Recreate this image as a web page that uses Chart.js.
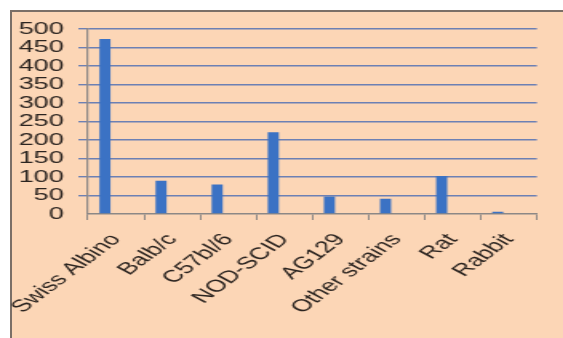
<!DOCTYPE html>
<html>
<head>
<meta charset="utf-8">
<script src="https://cdn.jsdelivr.net/npm/chart.js@4/dist/chart.umd.min.js"></script>
<style>
  html, body { margin: 0; padding: 0; background: #ffffff; overflow: hidden; }
  body { width: 563px; height: 338px; position: relative; }
  #frame {
    position: absolute; left: 10px; top: 10px; width: 553px; height: 328px;
    background: #fcd6b6; border-top: 2px solid #7b6f67; border-left: 2px solid #7b6f67;
    box-sizing: border-box;
  }
  /* the chart is laid out narrow and widened horizontally */
  #chart {
    position: absolute; left: 0; top: 0;
    transform: scaleX(1.6); transform-origin: 0 0;
  }
</style>
</head>
<body>
<div id="frame"></div>
<canvas id="chart" width="352" height="338"></canvas>
<script>
// Animal models used
const categories = ['Swiss Albino', 'Balb/c', 'C57bl/6', 'NOD-SCID', 'AG129', 'Other strains', 'Rat', 'Rabbit'];
const series1 = [473, 90, 80, 221, 47, 41, 103, 6];
const series2 = [];
const yTicks = { min: 0, max: 500, step: 50 };

const textColor = '#2b2420';
const gridBlue = '#6c80b4';
const axisGray = '#8c8886';
const family = '"Liberation Sans", Arial, sans-serif';

new Chart(document.getElementById('chart'), {
  type: 'bar',
  data: {
    labels: categories,
    datasets: [
      { label: 'Series 1', data: series1, backgroundColor: '#3b72c4', borderWidth: 0,
        categoryPercentage: 0.79, barPercentage: 0.5 },
      { label: 'Series 2', data: series2, backgroundColor: '#c0504d', borderWidth: 0,
        categoryPercentage: 0.79, barPercentage: 0.5 }
    ]
  },
  options: {
    responsive: false,
    animation: false,
    devicePixelRatio: 1,
    layout: { padding: { left: 0, top: 29, right: 16.4, bottom: 0 } },
    plugins: { legend: { display: false }, tooltip: { enabled: false } },
    scales: {
      x: {
        grid: { offset: true, drawOnChartArea: false, color: axisGray, tickLength: 6, lineWidth: 1 },
        border: { color: axisGray, width: 1.5 },
        ticks: {
          color: textColor, font: { family, size: 17 }, autoSkip: false,
          minRotation: 50, maxRotation: 50, padding: 10
        },
        afterFit(scale) {
          scale.height = 124;
          // rotated labels may overhang the plot on the left; keep the plot where it is
          scale.paddingLeft = 0;
          scale.paddingRight = 0;
        }
      },
      y: {
        min: yTicks.min, max: yTicks.max,
        grid: {
          color: (c) => c.tick && c.tick.value === 0 ? 'rgba(0,0,0,0)' : gridBlue,
          lineWidth: 1.4, tickLength: 6
        },
        border: { color: axisGray, width: 1.2 },
        ticks: { stepSize: yTicks.step, autoSkip: false, color: textColor, font: { family, size: 17 }, padding: 9 },
        afterFit(scale) {
          scale.width = 55;
          scale.paddingTop = 0;
          scale.paddingBottom = 0;
        }
      }
    }
  }
});
</script>
</body>
</html>
